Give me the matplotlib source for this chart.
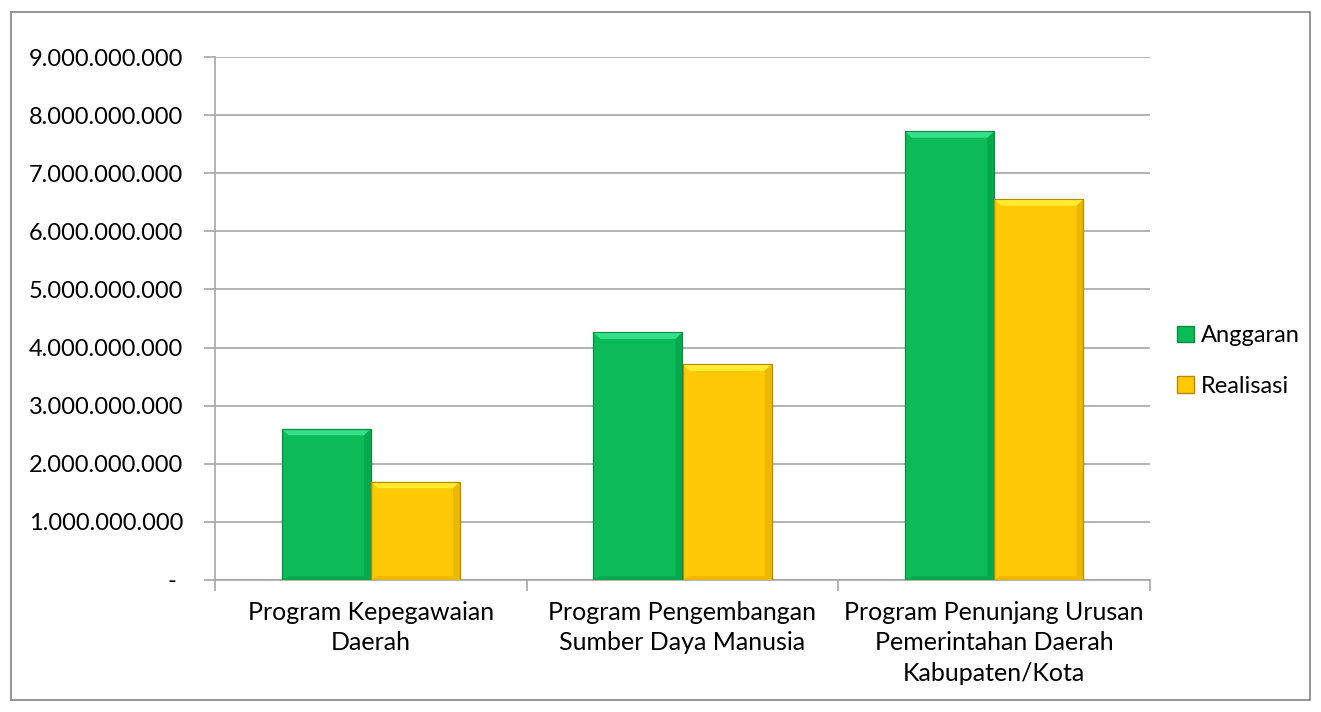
import matplotlib
matplotlib.use("Agg")
import matplotlib.pyplot as plt
from matplotlib.patches import Rectangle, Polygon
import numpy as np

# Budget vs. realisation per program (Rupiah)
categories = [
    "Program Kepegawaian\nDaerah",
    "Program Pengembangan\nSumber Daya Manusia",
    "Program Penunjang Urusan\nPemerintahan Daerah\nKabupaten/Kota",
]
anggaran = [2_600_000_000, 4_260_000_000, 7_720_000_000]
realisasi = [1_690_000_000, 3_710_000_000, 6_550_000_000]
series_names = ["Anggaran", "Realisasi"]
yticks = [i * 1_000_000_000 for i in range(10)]

plt.rcParams["font.family"] = ["Lato", "DejaVu Sans"]

W, H, DPI = 1321, 712, 100
fig = plt.figure(figsize=(W / DPI, H / DPI), dpi=DPI)
fig.patch.set_facecolor("white")

# outer chart frame
fig.add_artist(Rectangle((11 / W, 1 - 700 / H), (1310 - 11) / W, (700 - 12) / H,
                         transform=fig.transFigure, fill=False,
                         edgecolor="#8c8c8c", linewidth=1.3))

ax = fig.add_axes([215 / W, 1 - 580 / H, (1150 - 215) / W, (580 - 57) / H])

x = np.arange(len(categories))
bw = 0.286

styles = {
    "Anggaran": dict(face="#0bbb57", edge="#0a8a42", light="#34e08a", dark="#08a04a"),
    "Realisasi": dict(face="#ffc906", edge="#b38a00", light="#ffec30", dark="#e8b000"),
}


def bevel_bar(ax, xc, h, st):
    left = xc - bw / 2
    ax.bar(xc, h, bw, color=st["face"], edgecolor=st["edge"], linewidth=0.8, zorder=3)
    # bevel facets around the bar face
    bx = 0.022
    by = 110_000_000
    top = h
    ax.add_patch(Polygon([(left, top), (left + bw, top), (left + bw - bx, top - by),
                          (left + bx, top - by)], closed=True, facecolor=st["light"],
                         edgecolor="none", zorder=4))
    ax.add_patch(Polygon([(left + bw, 0), (left + bw - bx, by * 0.6),
                          (left + bw - bx, top - by), (left + bw, top)], closed=True,
                         facecolor=st["dark"], edgecolor="none", alpha=0.7, zorder=4))
    ax.add_patch(Polygon([(left, 0), (left + bw, 0), (left + bw - bx, by * 0.6),
                          (left + bx, by * 0.6)], closed=True, facecolor=st["dark"],
                         edgecolor="none", alpha=0.7, zorder=4))
    ax.add_patch(Rectangle((left, 0), bw, h, fill=False, edgecolor=st["edge"],
                           linewidth=0.8, zorder=5))


for i in range(len(categories)):
    bevel_bar(ax, x[i] - bw / 2, anggaran[i], styles["Anggaran"])
    bevel_bar(ax, x[i] + bw / 2, realisasi[i], styles["Realisasi"])

ax.set_xlim(-0.5, len(categories) - 0.5)
ax.set_ylim(0, 9_000_000_000)


def fmt(v):
    if v == 0:
        return "- "
    return f"{int(v):,}".replace(",", ".")


ax.set_yticks(yticks)
ax.set_yticklabels([fmt(v) for v in yticks], fontsize=17)
ax.yaxis.grid(True, color="#a6a6a6", linewidth=1.2, zorder=0)
ax.set_axisbelow(True)

ax.set_xticks(x)
ax.set_xticklabels(categories, fontsize=18, linespacing=1.4)
ax.tick_params(axis="x", length=0, pad=15)
ax.set_xticks([-0.5, 0.5, 1.5, 2.5], minor=True)
ax.tick_params(axis="x", which="minor", length=8, color="#a6a6a6", width=1.2)
ax.tick_params(axis="y", length=8, color="#a6a6a6", width=1.2, pad=15)

for s in ["top", "right"]:
    ax.spines[s].set_visible(False)
for s in ["left", "bottom"]:
    ax.spines[s].set_color("#a6a6a6")
    ax.spines[s].set_linewidth(1.2)

# legend
handles = [Rectangle((0, 0), 1, 1, facecolor=styles[n]["face"], edgecolor=styles[n]["edge"])
           for n in series_names]
leg = fig.legend(handles, series_names, loc="center left",
                 bbox_to_anchor=(1156 / W, 1 - 361 / H), frameon=False, fontsize=17,
                 handlelength=0.7, handleheight=0.7, handletextpad=0.3,
                 labelspacing=1.25)

fig.savefig("out.png", dpi=DPI, facecolor="white")
